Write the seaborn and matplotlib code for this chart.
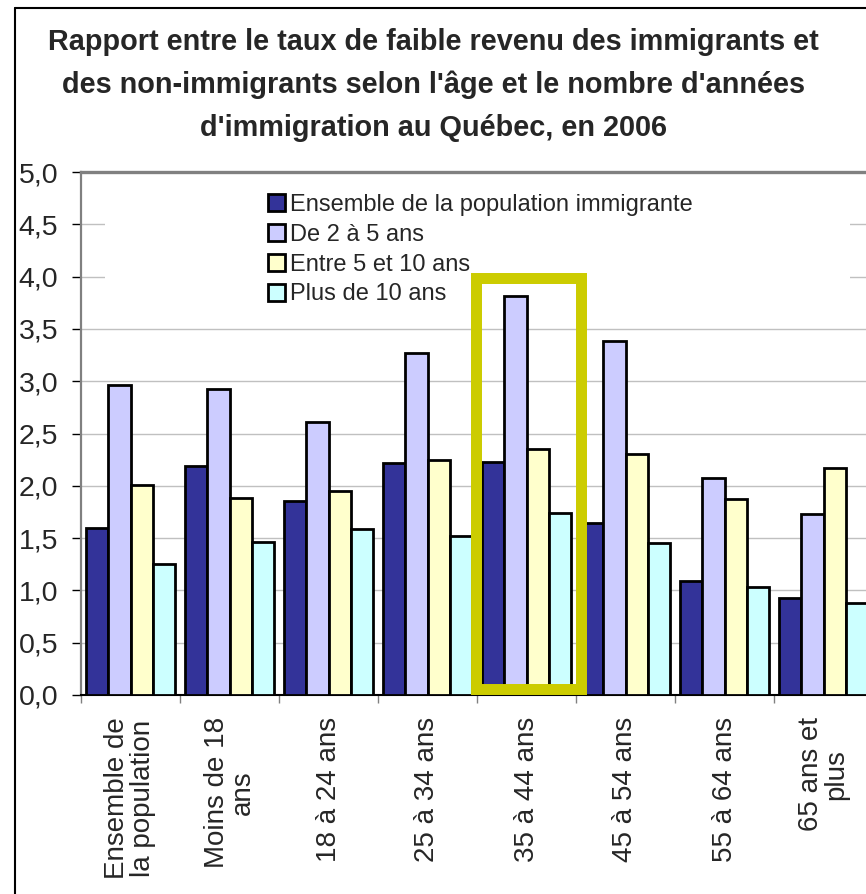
import matplotlib
matplotlib.use("Agg")
import matplotlib.pyplot as plt
import seaborn as sns
import pandas as pd
from matplotlib.patches import Rectangle
from matplotlib.lines import Line2D
from matplotlib.ticker import FixedLocator, FuncFormatter

# ---------------- data ----------------
categories = ["Ensemble de\nla population", "Moins de 18\nans", "18 à 24 ans",
              "25 à 34 ans", "35 à 44 ans", "45 à 54 ans", "55 à 64 ans",
              "65 ans et\nplus"]
series_names = ["Ensemble de la population immigrante", "De 2 à 5 ans",
                "Entre 5 et 10 ans", "Plus de 10 ans"]
ensemble = [1.60, 2.19, 1.85, 2.22, 2.23, 1.64, 1.09, 0.93]
de_2_a_5 = [2.96, 2.93, 2.61, 3.27, 3.81, 3.38, 2.07, 1.73]
entre_5_10 = [2.01, 1.88, 1.95, 2.25, 2.35, 2.30, 1.87, 2.17]
plus_10 = [1.25, 1.46, 1.59, 1.52, 1.74, 1.45, 1.03, 0.88]
colors = ["#333399", "#CCCCFF", "#FFFFCC", "#CCFFFF"]
yticks = [0.0, 0.5, 1.0, 1.5, 2.0, 2.5, 3.0, 3.5, 4.0, 4.5, 5.0]
highlight_category = "35 à 44 ans"
title = ("Rapport entre le taux de faible revenu des immigrants et\n"
         "des non-immigrants selon l'âge et le nombre d'années\n"
         "d'immigration au Québec, en 2006")

rows = []
for name, vals in zip(series_names, [ensemble, de_2_a_5, entre_5_10, plus_10]):
    for cat, v in zip(categories, vals):
        rows.append({"cat": cat, "serie": name, "val": v})
df = pd.DataFrame(rows)

# ---------------- figure ----------------
sns.set_style("white")
plt.rcParams["font.family"] = ["Liberation Sans", "DejaVu Sans"]

W, H = 866, 894
fig = plt.figure(figsize=(W / 100, H / 100), dpi=100)
ax = fig.add_axes([81 / W, (H - 695) / H, (873 - 81) / W, (695 - 172) / H])

sns.barplot(data=df, x="cat", y="val", hue="serie", order=categories,
            hue_order=series_names, palette=colors, width=0.9, gap=0,
            edgecolor="black", linewidth=2.0, saturation=1, ax=ax, zorder=3)

ax.set_xlim(-0.5, len(categories) - 0.5)
ax.set_ylim(0, 5)
ax.set_xlabel("")
ax.set_ylabel("")

# grid
ax.yaxis.set_major_locator(FixedLocator(yticks))
ax.yaxis.set_major_formatter(FuncFormatter(lambda v, p: f"{v:.1f}".replace(".", ",")))
ax.grid(axis="y", color="#C0C0C0", linewidth=1.0, zorder=0)
ax.grid(axis="x", visible=False)
ax.set_axisbelow(True)

# white box behind legend (hides gridlines like the original)
ax.add_patch(Rectangle((-0.258, 3.72), 7.53, 1.13, facecolor="white",
                       edgecolor="none", zorder=1))

# spines
for s in ["top", "left", "bottom", "right"]:
    ax.spines[s].set_visible(True)
ax.spines["top"].set_color("#808080")
ax.spines["top"].set_linewidth(2.4)
ax.spines["left"].set_color("#808080")
ax.spines["left"].set_linewidth(1.6)
ax.spines["bottom"].set_color("#000000")
ax.spines["bottom"].set_linewidth(1.5)
ax.spines["right"].set_color("#808080")

# ticks
ax.tick_params(axis="y", which="major", direction="out", length=6.5, width=1,
               color="black", labelsize=20.5, pad=10, left=True)
ax.set_xticks(range(len(categories)))
ax.set_xticklabels(categories, rotation=90, fontsize=20, linespacing=1.0,
                   ha="center", va="top", multialignment="center")
ax.tick_params(axis="x", which="major", length=0, pad=16)
ax.xaxis.set_minor_locator(FixedLocator([i - 0.5 for i in range(len(categories) + 1)]))
ax.tick_params(axis="x", which="minor", direction="out", length=6, width=1,
               color="#808080", bottom=True)

# highlight rectangle
hi = categories.index(highlight_category)
ax.add_patch(Rectangle((hi - 0.51, 0.06), 1.065, 3.93, fill=False,
                       edgecolor="#CCCC00", linewidth=7.9, zorder=5,
                       joinstyle="miter"))

# legend
handles, labels = ax.get_legend_handles_labels()
ax.legend(handles, labels, loc="upper left",
          bbox_to_anchor=(268 / W, (H - 194) / H), bbox_transform=fig.transFigure,
          frameon=False, fontsize=17, handlelength=0.72, handleheight=0.72,
          handletextpad=0.2, labelspacing=0.33, borderpad=0, borderaxespad=0)

# title
fig.text(0.5, (H - 85) / H, title, ha="center", va="center", fontsize=20.8,
         fontweight="bold", linespacing=1.66)

# outer chart border (left and top edges visible)
fig.add_artist(Line2D([14.5 / W, 14.5 / W], [0, (H - 8) / H],
                      transform=fig.transFigure, color="black", linewidth=1.5))
fig.add_artist(Line2D([14.5 / W, 1.0], [(H - 8) / H, (H - 8) / H],
                      transform=fig.transFigure, color="black", linewidth=1.5))

fig.savefig("out.png", dpi=100)
